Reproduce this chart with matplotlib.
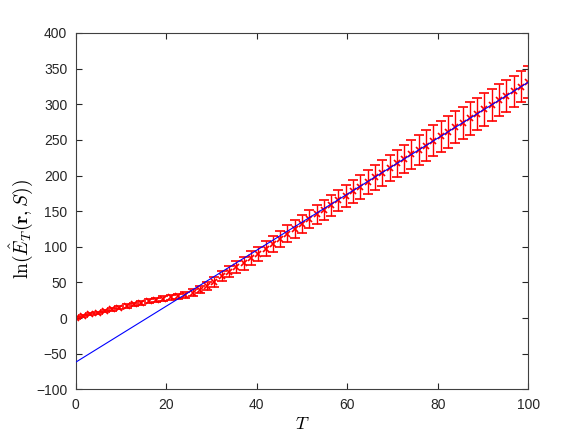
import numpy as np
import matplotlib
matplotlib.use('Agg')
import matplotlib.pyplot as plt

# Data
T = [0, 1.61, 3.23, 4.84, 6.45, 8.06, 9.68, 11.29, 12.90, 14.52,
     16.13, 17.74, 19.35, 20.97, 22.58, 24.19, 25.81, 27.42, 29.03, 30.65,
     32.26, 33.87, 35.48, 37.10, 38.71, 40.32, 41.94, 43.55, 45.16, 46.77,
     48.39, 50.00, 51.61, 53.23, 54.84, 56.45, 58.06, 59.68, 61.29, 62.90,
     64.52, 66.13, 67.74, 69.35, 70.97, 72.58, 74.19, 75.81, 77.42, 79.03,
     80.65, 82.26, 83.87, 85.48, 87.10, 88.71, 90.32, 91.94, 93.55, 95.16,
     96.77, 98.39, 100]

lnE = [0, 2.5, 5, 7.5, 9.8, 12.2, 14.5, 16.8, 19, 21.2,
       23.3, 25.3, 27.2, 29, 30.8, 32.5, 35.5, 40, 45, 51,
       59, 65, 71, 77, 84, 90, 97, 104, 111, 118,
       125, 132, 139, 145.5, 152, 158.5, 165, 171.5, 178, 184.5,
       191, 197.5, 204, 210.5, 217, 223, 229.5, 236, 242, 248.5,
       255, 261, 267.5, 274, 280, 286.5, 293, 299, 305.5, 312,
       318, 324.5, 331]

err = [1, 1.2, 1.4, 1.6, 1.8, 2, 2.1, 2.3, 2.5, 2.7,
       2.9, 3, 3.2, 3.4, 3.6, 4, 5, 5.5, 6, 7,
       7.5, 8, 8.5, 9, 9.5, 10, 10.5, 11, 11.5, 12,
       12.3, 12.7, 13.2, 13.7, 14.2, 14.8, 15.3, 15.8, 16.3, 16.8,
       17.3, 17.8, 18.3, 18.8, 19.3, 19.8, 20.3, 20.8, 21.3, 21.8,
       22, 22.3, 22.5, 22.5, 22.5, 22.8, 23, 22.8, 22.5, 22.3,
       22.2, 22, 22]

# fitted line end points
fit_T = [0, 100]
fit_y = [-62, 331]

plt.rcParams['font.family'] = ['Liberation Sans', 'DejaVu Sans']
plt.rcParams['mathtext.fontset'] = 'cm'

fig = plt.figure(figsize=(5.84, 4.38), dpi=100)
ax = fig.add_axes([0.1296, 0.1112, 0.775, 0.8135])

ax.errorbar(T, lnE, yerr=err, fmt='x', color='red', ecolor='red',
            elinewidth=1, capsize=3.5, capthick=1, markersize=4.5,
            markeredgewidth=1.2, zorder=2)
ax.plot(fit_T, fit_y, color='blue', linewidth=0.8, zorder=3)

ax.set_xlim(0, 100)
ax.set_ylim(-100, 400)
ax.set_xticks(np.arange(0, 101, 20))
ax.set_yticks(np.arange(-100, 401, 50))

ax.tick_params(direction='in', top=True, right=True, length=4,
               labelsize=10, colors='#262626', width=0.8, pad=6)
for s in ax.spines.values():
    s.set_color('#404040')
    s.set_linewidth(0.8)

ax.set_xlabel(r'$T$', fontsize=13)
ax.set_ylabel(r'$\ln(\hat{E}_T(\mathbf{r},S))$', fontsize=14)
ax.xaxis.set_label_coords(0.5, -0.075)
ax.yaxis.set_label_coords(-0.09, 0.45)

fig.savefig('out.png', dpi=100)
